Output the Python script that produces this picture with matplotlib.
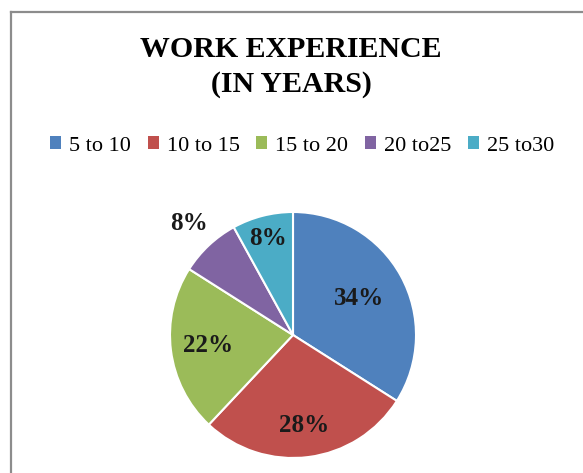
import numpy as np
import matplotlib
matplotlib.use("Agg")
import matplotlib.pyplot as plt
from matplotlib.lines import Line2D

categories = ["5 to 10", "10 to 15", "15 to 20", "20 to25", "25 to30"]
shares = [34, 28, 22, 8, 8]
colors = ["#4F81BD", "#C0504D", "#9BBB59", "#8064A2", "#4BACC6"]
# radial position of each percentage label (fraction of the radius)
label_radius = [0.61, 0.74, 0.70, 1.24, 0.81]

plt.rcParams["font.family"] = ["Liberation Serif", "DejaVu Serif"]

W, H = 583, 473
fig = plt.figure(figsize=(W / 100, H / 100), dpi=100)
fig.patch.set_facecolor("white")

# chart frame (left and top edges)
fig.add_artist(Line2D([11 / W, 11 / W], [0, 1 - 12 / H], color="#8c8c8c", lw=1.6))
fig.add_artist(Line2D([11 / W, 1], [1 - 12 / H, 1 - 12 / H], color="#8c8c8c", lw=1.6))

fig.text(291 / W, 1 - 57 / H, "WORK EXPERIENCE", ha="center", va="baseline",
         fontsize=21.5, fontweight="bold")
fig.text(291 / W, 1 - 92 / H, "(IN YEARS)", ha="center", va="baseline",
         fontsize=21.5, fontweight="bold")

cx, cy, r = 293, 335, 123
ax = fig.add_axes([(cx - r) / W, (H - cy - r) / H, 2 * r / W, 2 * r / H])
wedges, _ = ax.pie(shares, colors=colors, startangle=90, counterclock=False,
                   radius=1.0, wedgeprops=dict(edgecolor="white", linewidth=1.5))
ax.set_xlim(-1, 1)
ax.set_ylim(-1, 1)
ax.set_aspect("equal")
ax.axis("off")

for w, v, rr in zip(wedges, shares, label_radius):
    mid = np.deg2rad((w.theta1 + w.theta2) / 2)
    ax.text(rr * np.cos(mid), rr * np.sin(mid), f"{v}%", ha="center", va="center",
            fontsize=18, fontweight="bold", color="#1a1a1a", clip_on=False)

handles = [plt.Rectangle((0, 0), 1, 1, facecolor=c, edgecolor="none") for c in colors]
fig.legend(handles, categories, loc="center", bbox_to_anchor=(302 / W, 1 - 146 / H),
           ncol=5, frameon=False, fontsize=16, handlelength=0.5, handleheight=0.5,
           handletextpad=0.35, columnspacing=0.75, borderaxespad=0)

fig.savefig("out.png", dpi=100)
